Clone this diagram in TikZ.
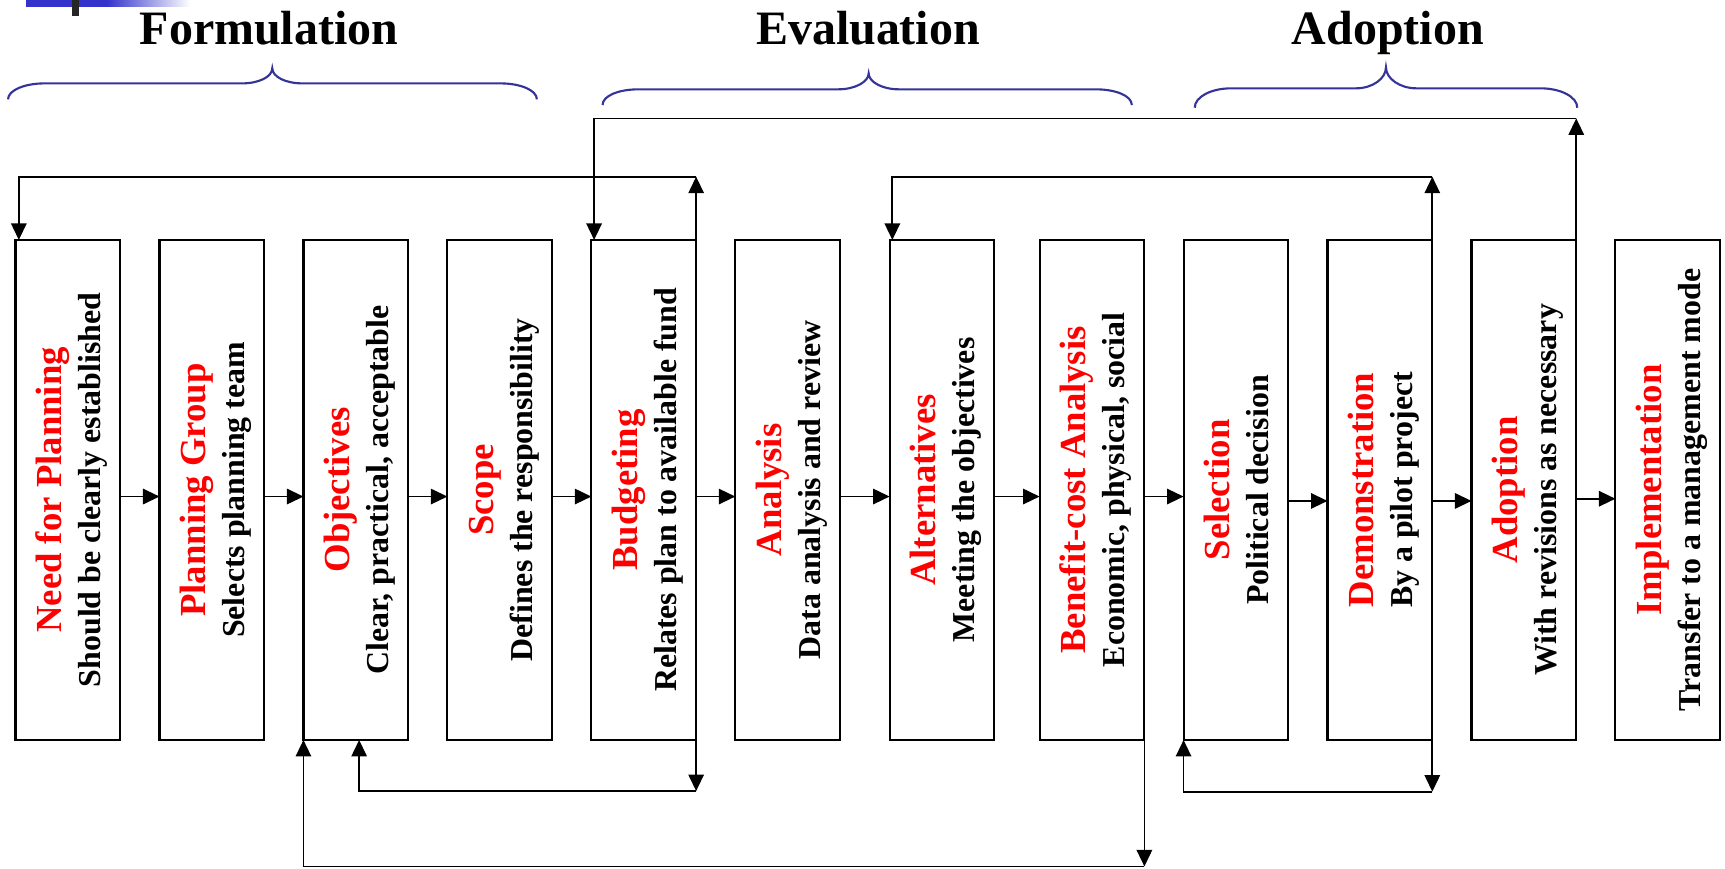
\documentclass[tikz,border=0pt]{standalone}
\usepackage{fontspec}
\setmainfont{Liberation Serif}
\usepackage{graphicx}
\usetikzlibrary{arrows.meta, positioning}

\definecolor{braceblue}{RGB}{51,51,153}
\definecolor{barblue}{RGB}{51,51,204}

\newcommand{\steptext}[2]{\hspace*{2mm}\rotatebox{90}{\begin{tabular}{@{}c@{}}\textcolor{red}{\fontsize{19}{20}\selectfont #1}\\ #2\end{tabular}}}

\begin{document}
\begin{tikzpicture}[
	box/.style={draw, line width=1.1pt, minimum width=1.905cm, minimum height=9.09cm, inner sep=0pt, outer sep=0pt, font=\bfseries\fontsize{16.5}{20}\selectfont},
	phase/.style={font=\bfseries\fontsize{24.8}{28}\selectfont, anchor=base},
	brace/.style={draw=braceblue, line width=1.1pt},
	link/.style={line width=0.9pt},
	>={Triangle[length=3mm, width=2.8mm]}
	]
	\useasboundingbox (0,0) rectangle (31.36,15.78);
	
	\fill[barblue] (0.47,15.66) rectangle (1.94,15.78);
	\shade[left color=barblue, right color=white] (1.94,15.66) rectangle (3.46,15.78);
	\fill[black!85] (1.30,15.48) rectangle (1.44,15.78);
	
	\node[phase] (tform) at (4.89,14.97) {Formulation};
	\node[phase] (teval) at (15.78,14.97) {Evaluation};
	\node[phase] (tadopt) at (25.23,14.97) {Adoption};
	
	\draw[brace] (0.146,13.974) .. controls (0.146,14.14) and (0.45,14.264) .. (0.81,14.264) -- (4.40,14.264) .. controls (4.70,14.264) and (4.95,14.38) .. (4.95,14.54) .. controls (4.95,14.38) and (5.20,14.264) .. (5.50,14.264) -- (9.10,14.264) .. controls (9.46,14.264) and (9.76,14.14) .. (9.76,13.974);
	\draw[brace] (10.954,13.87) .. controls (10.954,14.04) and (11.25,14.156) .. (11.61,14.156) -- (15.24,14.156) .. controls (15.54,14.156) and (15.792,14.29) .. (15.792,14.446) .. controls (15.792,14.29) and (16.04,14.156) .. (16.34,14.156) -- (19.92,14.156) .. controls (20.28,14.156) and (20.576,14.04) .. (20.576,13.87);
	\draw[brace] (21.72,13.822) .. controls (21.72,14.02) and (22.02,14.174) .. (22.38,14.174) -- (24.65,14.174) .. controls (24.95,14.174) and (25.196,14.35) .. (25.196,14.556) .. controls (25.196,14.35) and (25.45,14.174) .. (25.75,14.174) -- (28.01,14.174) .. controls (28.37,14.174) and (28.674,14.02) .. (28.674,13.822);
	
	\node[box] (s1) at (1.235,6.873) {\steptext{Need for Planning}{Should be clearly established}};
	\node[box] (s2) [right=0.712 of s1] {\steptext{Planning Group}{Selects planning team}};
	\node[box] (s3) [right=0.712 of s2] {\steptext{Objectives}{Clear, practical, acceptable}};
	\node[box] (s4) [right=0.712 of s3] {\steptext{Scope}{Defines the responsibility}};
	\node[box] (s5) [right=0.712 of s4] {\steptext{Budgeting}{Relates plan to available fund}};
	\node[box] (s6) [right=0.712 of s5] {\steptext{Analysis}{Data analysis and review}};
	\node[box] (s7) [right=0.9 of s6] {\steptext{Alternatives}{Meeting the objectives}};
	\node[box] (s8) [right=0.822 of s7] {\steptext{Benefit-cost Analysis}{Economic, physical, social}};
	\node[box] (s9) [right=0.712 of s8] {\steptext{Selection}{Political decision}};
	\node[box] (s10) [right=0.712 of s9] {\steptext{Demonstration}{By a pilot project}};
	\node[box] (s11) [right=0.712 of s10] {\steptext{Adoption}{With revisions as necessary}};
	\node[box] (s12) [right=0.712 of s11] {\steptext{Implementation}{Transfer to a management mode}};
	
	\draw[link, ->] ([yshift=-1.2mm]s1.east) -- ([yshift=-1.2mm]s2.west);
	\draw[link, ->] ([yshift=-1.2mm]s2.east) -- ([yshift=-1.2mm]s3.west);
	\draw[link, ->] ([yshift=-1.2mm]s3.east) -- ([yshift=-1.2mm]s4.west);
	\draw[link, ->] ([yshift=-1.2mm]s4.east) -- ([yshift=-1.2mm]s5.west);
	\draw[link, ->] ([yshift=-1.2mm]s5.east) -- ([yshift=-1.2mm]s6.west);
	\draw[link, ->] ([yshift=-1.2mm]s6.east) -- ([yshift=-1.2mm]s7.west);
	\draw[link, ->] ([yshift=-1.2mm]s7.east) -- ([yshift=-1.2mm]s8.west);
	\draw[link, ->] ([yshift=-1.2mm]s8.east) -- ([yshift=-1.2mm]s9.west);
	\draw[link, ->] ([yshift=-2mm]s9.east) -- ([yshift=-2mm]s10.west);
	\draw[link, ->] ([yshift=-2mm]s10.east) -- ([yshift=-2mm]s11.west);
	\draw[link, ->] ([yshift=-1.6mm]s11.east) -- ([yshift=-1.6mm]s12.west);
	
	\draw[link, ->] (s5.north east) -- ++(0,1.15) coordinate (u5);
	\draw[link, ->] (u5) -| ([xshift=0.6mm]s1.north west);
	\draw[link, ->] (s5.south east) -- ++(0,-0.93) coordinate (d5);
	\draw[link, ->] (d5) -| ([xshift=0.6mm]s3.south);
	\draw[link, ->] (s11.north east) -- ++(0,2.21) coordinate (u11);
	\draw[link, ->] (u11) -| ([xshift=0.5mm]s5.north west);
	\draw[link, ->] (s10.north east) -- ++(0,1.15) coordinate (u10);
	\draw[link, ->] (u10) -| ([xshift=0.5mm]s7.north west);
	\draw[link, ->] (s10.south east) -- ++(0,-0.94) coordinate (d10);
	\draw[link, ->] (d10) -| (s9.south west);
	\draw[link, ->] (s8.south east) -- ++(0,-2.30) coordinate (d8);
	\draw[link, ->] (d8) -| (s3.south west);
\end{tikzpicture}
\end{document}
